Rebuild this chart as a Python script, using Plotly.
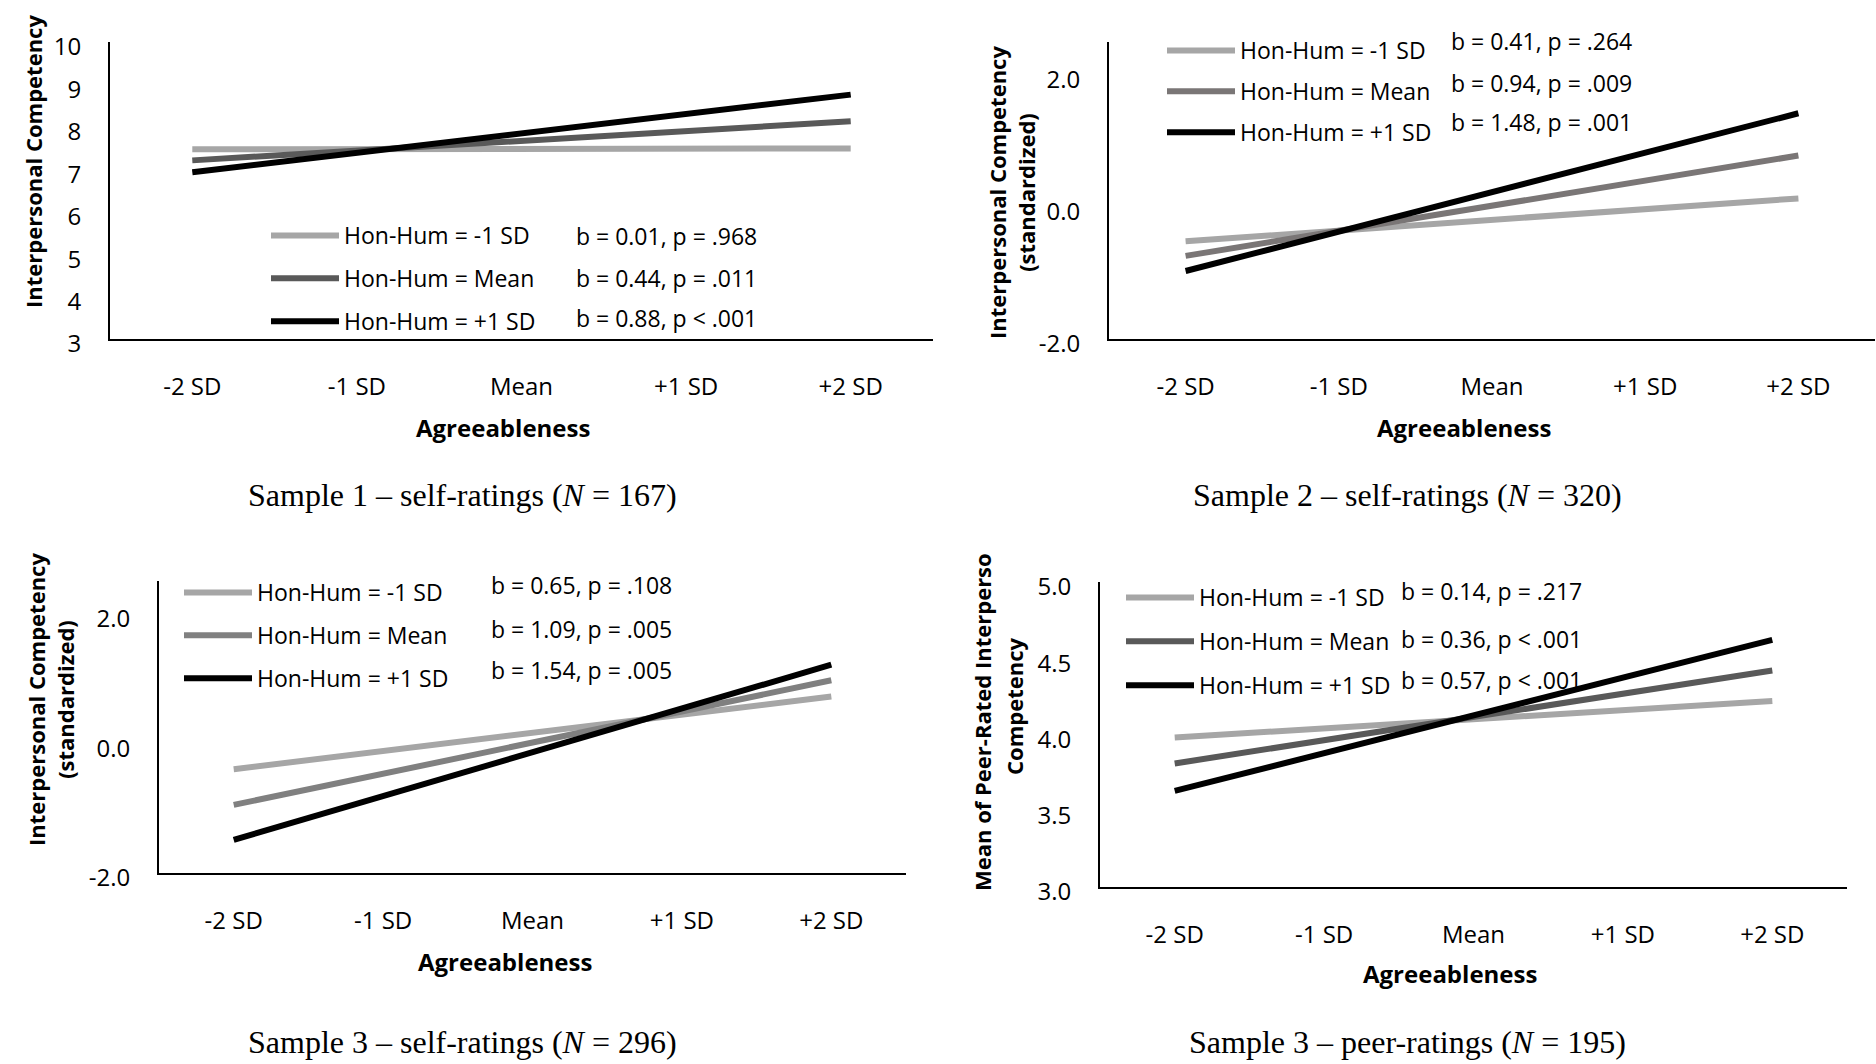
import plotly.graph_objects as go

# ---------------- data ----------------
CATS = ["-2 SD", "-1 SD", "Mean", "+1 SD", "+2 SD"]
ENDS = ["-2 SD", "+2 SD"]
SERIES_NAMES = ["Hon-Hum = -1 SD", "Hon-Hum = Mean", "Hon-Hum = +1 SD"]

s1_low = [7.47, 7.49]
s1_mean = [7.21, 8.13]
s1_high = [6.93, 8.76]

s2_low = [-0.52, 0.13]
s2_mean = [-0.74, 0.78]
s2_high = [-0.97, 1.42]

s3_low = [-0.40, 0.72]
s3_mean = [-0.95, 0.97]
s3_high = [-1.49, 1.21]

s4_low = [3.98, 4.22]
s4_mean = [3.81, 4.42]
s4_high = [3.63, 4.62]

y1_ticks = [3, 4, 5, 6, 7, 8, 9, 10]
y1_labels = ["3", "4", "5", "6", "7", "8", "9", "10"]
y23_ticks = [-2, 0, 2]
y23_labels = ["-2.0", "0.0", "2.0"]
y4_ticks = [3, 3.5, 4, 4.5, 5]
y4_labels = ["3.0", "3.5", "4.0", "4.5", "5.0"]

s1_stats = ["b = 0.01, p = .968", "b = 0.44, p = .011", "b = 0.88, p < .001"]
s2_stats = ["b = 0.41, p = .264", "b = 0.94, p = .009", "b = 1.48, p = .001"]
s3_stats = ["b = 0.65, p = .108", "b = 1.09, p = .005", "b = 1.54, p = .005"]
s4_stats = ["b = 0.14, p = .217", "b = 0.36, p < .001", "b = 0.57, p < .001"]

captions = ["Sample 1 – self-ratings (<i>N</i> = 167)",
            "Sample 2 – self-ratings (<i>N</i> = 320)",
            "Sample 3 – self-ratings (<i>N</i> = 296)",
            "Sample 3 – peer-ratings (<i>N</i> = 195)"]

# ---------------- layout helpers ----------------
W, H = 1876, 1064
def px(x):
    return x / W
def py(y):
    return 1 - y / H

FONT = "Open Sans"
LIGHT = "#a6a6a6"
BLACK = "#000000"

panels = [
    dict(vals=[s1_low, s1_mean, s1_high], mean_col="#595959", stats=s1_stats,
         xd=(110, 933), yd=(42, 339), yr=[3, 10], tv=y1_ticks, tt=y1_labels,
         leg=(266, 214), gap=10, stat=(574, [236, 278, 318]),
         ytitle=[("<b>Interpersonal Competency</b>", 33, 162)],
         xt=(503, 427), cap=(462, 495)),
    dict(vals=[s2_low, s2_mean, s2_high], mean_col="#7a7676", stats=s2_stats,
         xd=(1109, 1875), yd=(42, 339), yr=[-2, 2.5], tv=y23_ticks, tt=y23_labels,
         leg=(1162, 29), gap=8, stat=(1449, [41, 83, 122]),
         ytitle=[("<b>Interpersonal Competency<br>(standardized)</b>", 1012, 193)],
         xt=(1464, 427), cap=(1407, 495)),
    dict(vals=[s3_low, s3_mean, s3_high], mean_col="#808080", stats=s3_stats,
         xd=(159, 906), yd=(581, 873), yr=[-2, 2.5], tv=y23_ticks, tt=y23_labels,
         leg=(179, 571), gap=10, stat=(489, [585, 629, 670]),
         ytitle=[("<b>Interpersonal Competency<br>(standardized)</b>", 50, 700)],
         xt=(505, 961), cap=(462, 1042)),
    dict(vals=[s4_low, s4_mean, s4_high], mean_col="#595959", stats=s4_stats,
         xd=(1100, 1847), yd=(582, 887), yr=[3, 5], tv=y4_ticks, tt=y4_labels,
         leg=(1121, 576), gap=11, stat=(1399, [591, 639, 680]),
         ytitle=[("<b>Mean of Peer-Rated Interperso</b>", 982, 722),
                 ("<b>Competency</b>", 1014, 707)],
         xt=(1450, 973), cap=(1407, 1042)),
]

fig = go.Figure()
annotations = []
layout = dict(
    width=W, height=H, margin=dict(l=0, r=0, t=0, b=0, autoexpand=False),
    paper_bgcolor="white", plot_bgcolor="white",
    font=dict(family=FONT, size=23, color="black"),
)

for i, p in enumerate(panels):
    n = i + 1
    xa = "xaxis" if n == 1 else f"xaxis{n}"
    ya = "yaxis" if n == 1 else f"yaxis{n}"
    xref = "x" if n == 1 else f"x{n}"
    yref = "y" if n == 1 else f"y{n}"
    legname = "legend" if n == 1 else f"legend{n}"
    colors = [LIGHT, p["mean_col"], BLACK]
    for k, (name, vals) in enumerate(zip(SERIES_NAMES, p["vals"])):
        fig.add_trace(go.Scatter(
            x=ENDS, y=vals, mode="lines", name=name,
            line=dict(color=colors[k], width=6),
            xaxis=xref, yaxis=yref, legend=legname,
            legendgroup=f"g{n}_{k}", showlegend=True,
        ))
    layout[xa] = dict(
        domain=[px(p["xd"][0]), px(p["xd"][1])], anchor=yref,
        type="category", categoryorder="array", categoryarray=CATS,
        range=[-0.5, 4.5], showgrid=False, zeroline=False,
        showline=True, linecolor="black", linewidth=2,
        ticks="outside", ticklen=25, tickcolor="rgba(0,0,0,0)",
        tickfont=dict(family=FONT, size=24, color="black"),
        automargin=False,
    )
    layout[ya] = dict(
        domain=[py(p["yd"][1]), py(p["yd"][0])], anchor=xref,
        range=p["yr"], tickmode="array", tickvals=p["tv"], ticktext=p["tt"],
        showgrid=False, zeroline=False,
        showline=True, linecolor="black", linewidth=2,
        ticks="outside", ticklen=22, tickcolor="rgba(0,0,0,0)",
        tickfont=dict(family=FONT, size=24, color="black"),
        ticklabelshift=5, automargin=False,
    )
    layout[legname] = dict(
        x=px(p["leg"][0]), y=py(p["leg"][1]), xanchor="left", yanchor="top",
        bgcolor="rgba(0,0,0,0)", borderwidth=0,
        font=dict(family=FONT, size=23, color="black"),
        traceorder="grouped", tracegroupgap=p["gap"], itemwidth=68,
    )
    for k, txt in enumerate(p["stats"]):
        annotations.append(dict(
            xref="paper", yref="paper", x=px(p["stat"][0]), y=py(p["stat"][1][k]),
            xanchor="left", yanchor="middle", text=txt, showarrow=False,
            font=dict(family=FONT, size=23, color="black"),
        ))
    for txt, tx, ty in p["ytitle"]:
        annotations.append(dict(
            xref="paper", yref="paper", x=px(tx), y=py(ty),
            xanchor="center", yanchor="middle", text=txt, textangle=-90,
            showarrow=False, font=dict(family=FONT, size=22, color="black"),
        ))
    annotations.append(dict(
        xref="paper", yref="paper", x=px(p["xt"][0]), y=py(p["xt"][1]),
        xanchor="center", yanchor="middle", text="<b>Agreeableness</b>",
        showarrow=False, font=dict(family=FONT, size=24, color="black"),
    ))
    annotations.append(dict(
        xref="paper", yref="paper", x=px(p["cap"][0]), y=py(p["cap"][1]),
        xanchor="center", yanchor="middle", text=captions[i],
        showarrow=False, font=dict(family="Liberation Serif", size=32, color="black"),
    ))

layout["annotations"] = annotations
fig.update_layout(**layout)
fig.write_html("out.html", config={"displayModeBar": False},
               post_script="document.body.style.margin='0px';")
